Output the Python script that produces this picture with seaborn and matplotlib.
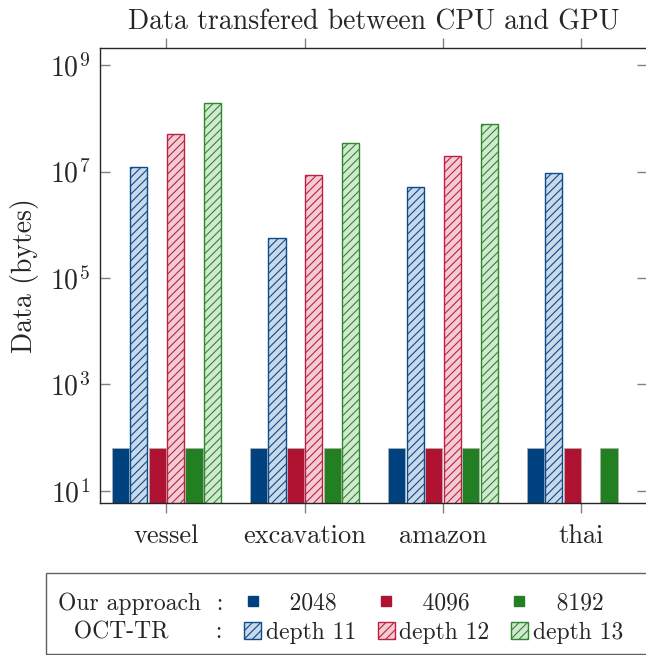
import matplotlib
matplotlib.use("Agg")
import matplotlib.pyplot as plt
import pandas as pd
import seaborn as sns
from matplotlib.lines import Line2D
from matplotlib.patches import Rectangle

# values (bytes)
datasets = ["vessel", "excavation", "amazon", "thai"]
series = ["2048", "depth 11", "4096", "depth 12", "8192", "depth 13"]
ours_2048 = [64, 64, 64, 64]
ours_4096 = [64, 64, 64, 64]
ours_8192 = [64, 64, 64, 64]
oct_depth11 = [1.24e7, 5.6e5, 5.1e6, 9.4e6]
oct_depth12 = [5.0e7, 8.6e6, 1.96e7, None]
oct_depth13 = [1.96e8, 3.5e7, 7.8e7, None]

dark = {"2048": "#00427f", "4096": "#b01232", "8192": "#228022"}
light = {"depth 11": "#c9d9e9", "depth 12": "#f2ccd4", "depth 13": "#d3e8d2"}
edge = {"depth 11": "#0b4c8c", "depth 12": "#bf2040", "depth 13": "#2d8a2a"}

rows = []
for name, vals in zip(series, [ours_2048, oct_depth11, ours_4096,
                               oct_depth12, ours_8192, oct_depth13]):
    for d, v in zip(datasets, vals):
        if v is not None:
            rows.append({"dataset": d, "series": name, "bytes": v})
df = pd.DataFrame(rows)

sns.set_style("ticks")
plt.rcParams["font.family"] = ["cmr10", "DejaVu Serif"]
plt.rcParams["mathtext.fontset"] = "cm"
plt.rcParams["axes.formatter.use_mathtext"] = True
plt.rcParams["hatch.linewidth"] = 0.8

fig = plt.figure(figsize=(6.46, 6.55), dpi=100)
ax = fig.add_axes([100 / 646, 1 - 503 / 655, 547 / 646, 455 / 655])
ax.set_yscale("log")

palette = {**dark, **edge}
sns.barplot(data=df, x="dataset", y="bytes", hue="series", hue_order=series,
            order=datasets, palette=palette, saturation=1, errorbar=None,
            gap=0.07, width=0.8, legend=False, ax=ax)

for name, cont in zip(series, ax.containers):
    for bar in cont:
        if name in light:
            bar.set_facecolor(light[name])
            bar.set_edgecolor(edge[name])
            bar.set_hatch("////")
            bar.set_linewidth(1.0)
        else:
            bar.set_edgecolor("#b0b0b0")
            bar.set_linewidth(0.5)

ax.set_ylim(5.9, 2.1e9)
ax.set_xlim(-0.48, 3.475)
ax.set_yticks([1e1, 1e3, 1e5, 1e7, 1e9])
ax.minorticks_off()
ax.tick_params(axis="y", which="both", direction="in", length=7, width=1,
               color="#808080", right=True, labelsize=20, pad=7)
ax.tick_params(axis="x", direction="out", length=7, width=1, color="#808080",
               top=True, labelsize=19, pad=8)
for s in ax.spines.values():
    s.set_linewidth(1.0)
ax.set_xlabel("")
ax.set_ylabel("Data (bytes)", fontsize=20, labelpad=8)
ax.set_title("Data transfered between CPU and GPU", fontsize=20, pad=13)

# legend: two rows, first column holds the row captions
blank = Rectangle((0, 0), 1, 1, visible=False)
handles = [blank, blank]
labels = ["Our approach  :", "  OCT-TR      :"]
for solid, hatched in [("2048", "depth 11"), ("4096", "depth 12"),
                       ("8192", "depth 13")]:
    handles.append(Line2D([], [], marker="s", linestyle="none",
                          markersize=7, color=dark[solid]))
    handles.append(Rectangle((0, 0), 1, 1, facecolor=light[hatched],
                             edgecolor=edge[hatched], hatch="////"))
    labels += ["   " + solid, hatched]

leg = fig.legend(handles, labels, ncol=4, loc="center left",
                 bbox_to_anchor=(36 / 646, 1 - 618 / 655), fontsize=17,
                 handlelength=0.72, handleheight=0.72, handletextpad=0.2,
                 columnspacing=0.9, labelspacing=0.3, frameon=False,
                 borderpad=0, borderaxespad=0)
fig.patches.append(Rectangle((46 / 646, 1 - 654 / 655), 620 / 646, 81 / 655,
                             transform=fig.transFigure, fill=False,
                             edgecolor="#606060", linewidth=1.0))

fig.savefig("out.png", dpi=100)
